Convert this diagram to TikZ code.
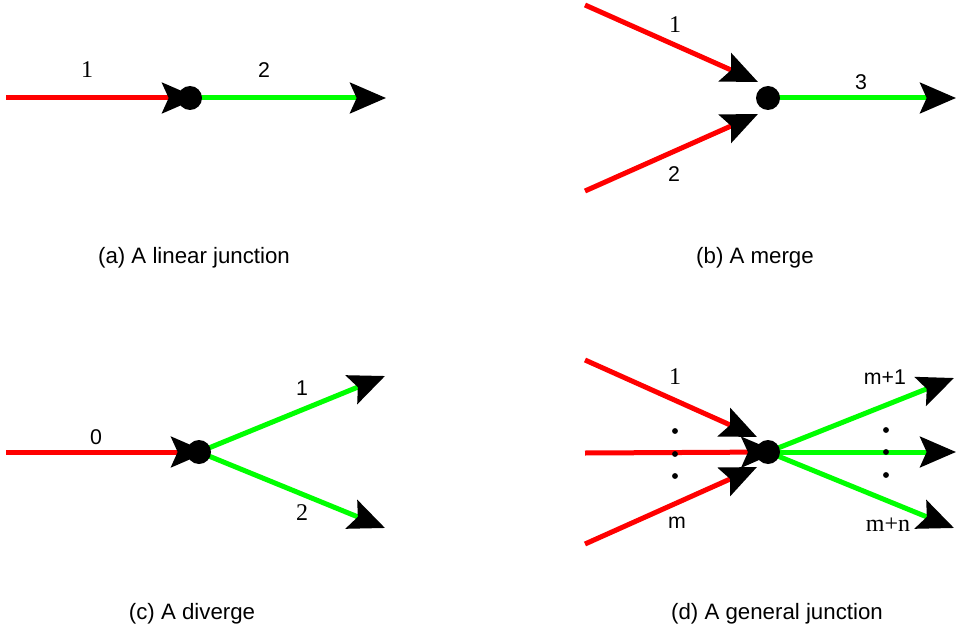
\documentclass[tikz,border=0pt]{standalone}
\usepackage{fontspec}
\setmainfont{Liberation Sans}
\newfontfamily\serifl{Liberation Serif}
\usetikzlibrary{arrows.meta}
\definecolor{inred}{RGB}{255,0,0}
\definecolor{outgreen}{RGB}{0,255,0}
\tikzset{
  headtip/.tip={Stealth[length=27pt,width=23pt,inset=5pt,color=black]},
  inlink/.style={draw=inred, line width=3.75pt, -headtip},
  outlink/.style={draw=outgreen, line width=3.75pt, -headtip},
  junc/.style={circle, fill=black, inner sep=0pt, minimum size=18pt},
  sanslab/.style={font=\fontsize{16pt}{19pt}\selectfont, inner sep=0pt},
  seriflab/.style={font=\serifl\fontsize{18pt}{21pt}\selectfont, inner sep=0pt},
  caption/.style={font=\fontsize{16.7pt}{20pt}\selectfont, inner sep=0pt},
  vdot/.style={circle, fill=black, inner sep=0pt, minimum size=4.4pt}
}
\begin{document}
\begin{tikzpicture}[x=0.75pt, y=-0.75pt]
\useasboundingbox (0,0) rectangle (956,631);
% ---------- (a) linear junction ----------
\coordinate (a0) at (6,98);
\coordinate (aJc) at (190,98);
\coordinate (a2) at (386,98);
\draw[outlink] (aJc) -- (a2);
\draw[inlink] (a0) -- ([xshift=6pt]aJc);
\node[junc] (aJ) at (aJc) {};
\node[seriflab] (al1) at (87,70) {1};
\node[sanslab] (al2) at (264,70) {2};
\node[caption] (capa) at (194,258) {(a) A linear junction};
% ---------- (b) merge ----------
\coordinate (b1) at (585,5);
\coordinate (b2) at (585,191);
\coordinate (bt1) at (758,82);
\coordinate (bt2) at (758,114);
\coordinate (bJc) at (768,98);
\coordinate (b3) at (956,98);
\draw[inlink] (b1) -- (bt1);
\draw[inlink] (b2) -- (bt2);
\draw[outlink] (bJc) -- (b3);
\node[junc] (bJ) at (bJc) {};
\node[seriflab] (bl1) at (675,25) {1};
\node[sanslab] (bl2) at (674,174) {2};
\node[sanslab] (bl3) at (861,82) {3};
\node[caption] (capb) at (755,258) {(b) A merge};
% ---------- (c) diverge ----------
\coordinate (c0) at (6,452);
\coordinate (cJc) at (199,452);
\coordinate (c1) at (385,376);
\coordinate (c2) at (385,528);
\draw[outlink] (cJc) -- (c1);
\draw[outlink] (cJc) -- (c2);
\draw[inlink] (c0) -- ([xshift=6pt]cJc);
\node[junc] (cJ) at (cJc) {};
\node[sanslab] (cl0) at (96,437) {0};
\node[sanslab] (cl1) at (302,388) {1};
\node[seriflab] (cl2) at (302,513) {2};
\node[caption] (capc) at (192,614) {(c) A diverge};
% ---------- (d) general junction ----------
\coordinate (d1) at (585,360);
\coordinate (dm) at (585,544);
\coordinate (dmid) at (585,453);
\coordinate (dt1) at (757,437);
\coordinate (dtm) at (757,467);
\coordinate (dJc) at (768,452);
\coordinate (e1) at (954,378);
\coordinate (emid) at (956,452);
\coordinate (en) at (954,528);
\draw[outlink] (dJc) -- (e1);
\draw[outlink] (dJc) -- (emid);
\draw[outlink] (dJc) -- (en);
\draw[inlink] (d1) -- (dt1);
\draw[inlink] (dm) -- (dtm);
\draw[inlink] (dmid) -- ([xshift=7pt]dJc);
\node[junc] (dJ) at (dJc) {};
\node[vdot] (ld1) at (675,431) {};
\node[vdot] (ld2) at (675,454) {};
\node[vdot] (ld3) at (675,476) {};
\node[vdot] (rd1) at (886,430) {};
\node[vdot] (rd2) at (886,452) {};
\node[vdot] (rd3) at (886,475) {};
\node[seriflab] (dl1) at (675,377) {1};
\node[sanslab] (dlm) at (677,523) {m};
\node[sanslab] (dlm1) at (885,377) {m+1};
\node[seriflab] (dlmn) at (888,525) {m+n};
\node[caption] (capd) at (777,614) {(d) A general junction};
\end{tikzpicture}
\end{document}
